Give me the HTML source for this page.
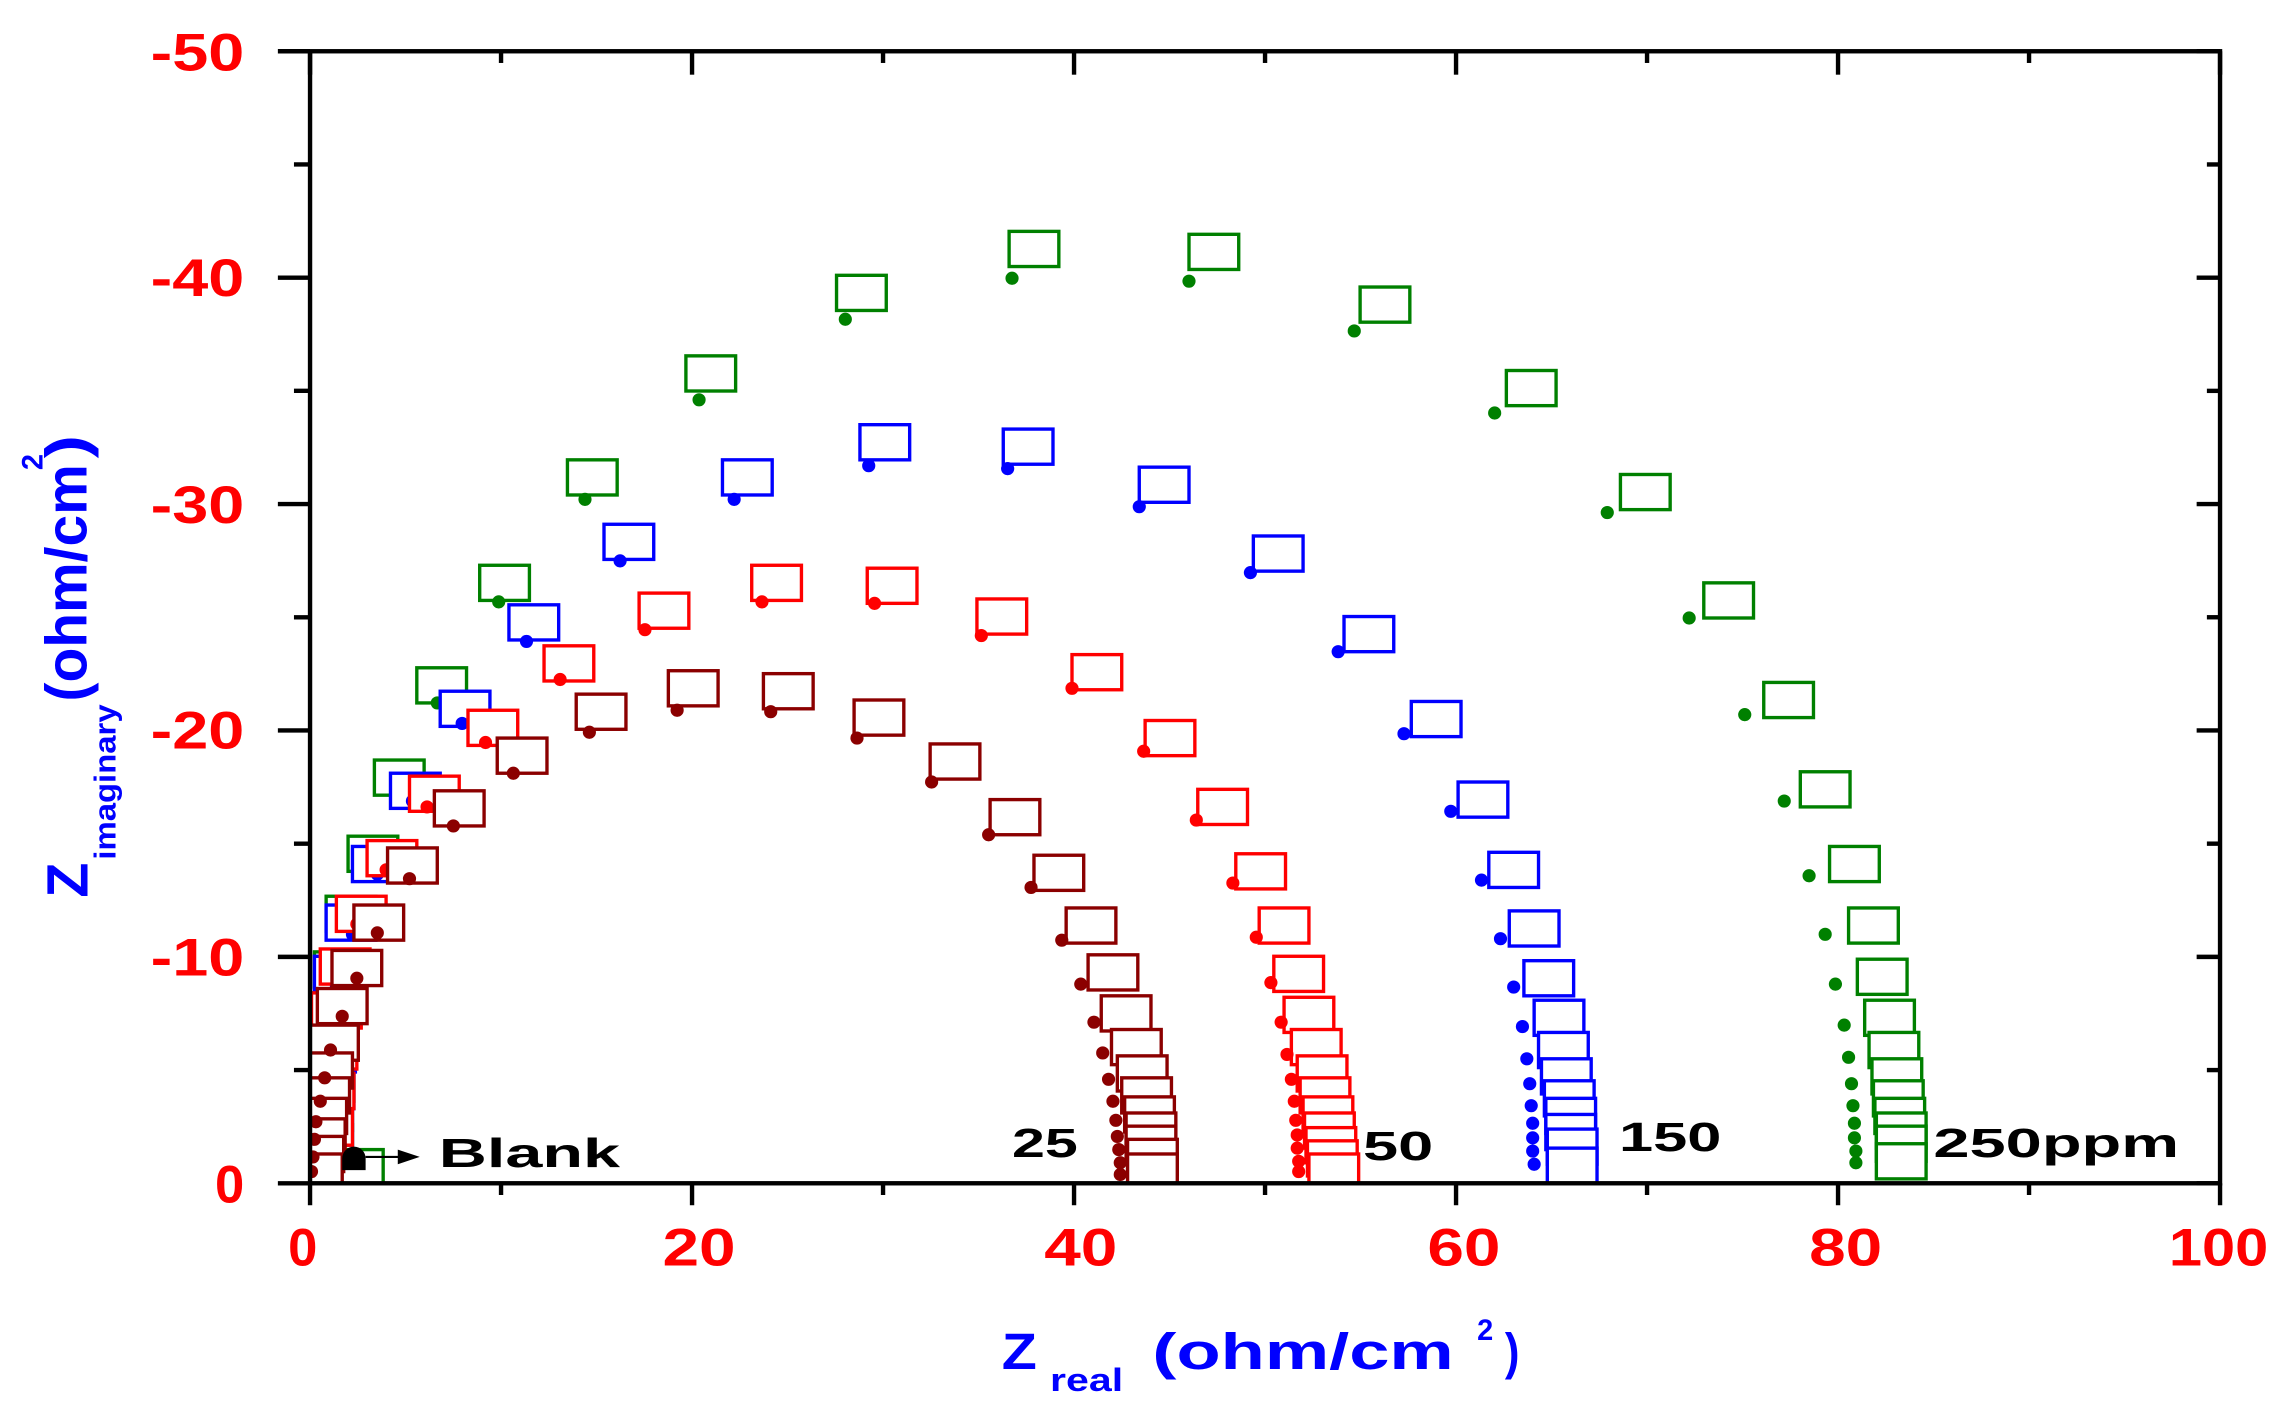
<!DOCTYPE html>
<html><head><meta charset="utf-8"><style>
html,body{margin:0;padding:0;background:#fff;}
svg{display:block;}
text{font-family:"Liberation Sans",Arial,sans-serif;font-weight:bold;}
</style></head><body>
<svg id="s" width="2292" height="1417" viewBox="0 0 1567.2 967.6" preserveAspectRatio="none" xmlns="http://www.w3.org/2000/svg">
<defs><clipPath id="cp"><rect x="212" y="35" width="1306" height="773"/></clipPath></defs>
<g id="data" clip-path="url(#cp)"></g>
<g stroke="#000" stroke-width="3" fill="none">
<rect x="212" y="35" width="1306" height="773"/>
</g>
<g id="ticks" stroke="#000" stroke-width="3"></g>
<g fill="#f00" font-size="36" text-anchor="end">
<text x="167" y="48" textLength="64" lengthAdjust="spacingAndGlyphs">-50</text>
<text x="167" y="202" textLength="64" lengthAdjust="spacingAndGlyphs">-40</text>
<text x="167" y="357" textLength="64" lengthAdjust="spacingAndGlyphs">-30</text>
<text x="167" y="511" textLength="64" lengthAdjust="spacingAndGlyphs">-20</text>
<text x="167" y="666" textLength="64" lengthAdjust="spacingAndGlyphs">-10</text>
<text x="167" y="821" textLength="20" lengthAdjust="spacingAndGlyphs">0</text>
</g>
<g fill="#f00" font-size="36">
<text x="197" y="864" textLength="20" lengthAdjust="spacingAndGlyphs">0</text>
<text x="453" y="864" textLength="50" lengthAdjust="spacingAndGlyphs">20</text>
<text x="714" y="864" textLength="50" lengthAdjust="spacingAndGlyphs">40</text>
<text x="976" y="864" textLength="50" lengthAdjust="spacingAndGlyphs">60</text>
<text x="1237" y="864" textLength="50" lengthAdjust="spacingAndGlyphs">80</text>
<text x="1483" y="864" textLength="68" lengthAdjust="spacingAndGlyphs">100</text>
</g>
<g fill="#00f">
<text x="685" y="935" font-size="35" textLength="24" lengthAdjust="spacingAndGlyphs">Z</text>
<text x="718" y="950" font-size="22" textLength="50" lengthAdjust="spacingAndGlyphs">real</text>
<text x="788" y="935" font-size="35" textLength="206" lengthAdjust="spacingAndGlyphs">(ohm/cm</text>
<text x="1010" y="915" font-size="20" textLength="11" lengthAdjust="spacingAndGlyphs">2</text>
<text x="1029" y="935" font-size="35" textLength="10" lengthAdjust="spacingAndGlyphs">)</text>
</g>
<g fill="#00f">
<text transform="translate(60,613) rotate(-90)" font-size="40" textLength="24" lengthAdjust="spacingAndGlyphs">Z</text>
<text transform="translate(79,587) rotate(-90)" font-size="21" textLength="106" lengthAdjust="spacingAndGlyphs">imaginary</text>
<text transform="translate(59,479) rotate(-90)" font-size="40" textLength="162" lengthAdjust="spacingAndGlyphs">(ohm/cm</text>
<text transform="translate(29,321) rotate(-90)" font-size="20" textLength="11" lengthAdjust="spacingAndGlyphs">2</text>
<text transform="translate(59,313) rotate(-90)" font-size="40" textLength="16" lengthAdjust="spacingAndGlyphs">)</text>
</g>
<g fill="#000" font-size="28">
<text x="300" y="797" textLength="124" lengthAdjust="spacingAndGlyphs">Blank</text>
<text x="692" y="790" textLength="45" lengthAdjust="spacingAndGlyphs">25</text>
<text x="932" y="792" textLength="48" lengthAdjust="spacingAndGlyphs">50</text>
<text x="1107" y="786" textLength="70" lengthAdjust="spacingAndGlyphs">150</text>
<text x="1322" y="790" textLength="168" lengthAdjust="spacingAndGlyphs">250ppm</text>
</g>
<path d="M242,783 a8,8 0 0 1 8,8 v8 h-16 v-8 a8,8 0 0 1 8,-8z" fill="#000"/>
<line x1="250" y1="790" x2="280" y2="790" stroke="#000" stroke-width="1.5"/>
<path d="M272,785 L287,790 L272,795z" fill="#000"/>
</svg>
<script>
var NS="http://www.w3.org/2000/svg";
function el(p,n,a){var e=document.createElementNS(NS,n);for(var k in a)e.setAttribute(k,a[k]);p.appendChild(e);return e;}
var tk=document.getElementById('ticks');
for(var i=0;i<=10;i++){var y=808-i*77.3;var maj=i%2==0;
 el(tk,'line',{x1:212-(maj?22:11),y1:y,x2:212,y2:y});
 el(tk,'line',{x1:1518,y1:y,x2:1518-(maj?16:9),y2:y});}
for(var i=0;i<=10;i++){var x=212+i*130.6;var maj=i%2==0;
 el(tk,'line',{x1:x,y1:808,x2:x,y2:808+(maj?15:8)});
 el(tk,'line',{x1:x,y1:35,x2:x,y2:35+(maj?16:8)});}
var D=document.getElementById('data');
var series=[
{c:'#008000',
 sq:[[707,170],[830,172],[947,208],[1047,265],[1125,336],[1182,410],[1223,478],[1248,539],[1268,590],[1281,632],[1287,667],[1292,695],[1295,717],[1297,735],[1298,750],[1299,762],[1300,772],[1300,781],[1300,793],
 [589,200],[486,255],[405,326],[345,398],[302,468],[273,531],[255,583],[240,624],[232,662],[228,690],[226,715],[225,740],[224,760],[224,780],[245,797]],
 d:[[692,190],[813,192],[926,226],[1022,282],[1099,350],[1155,422],[1193,488],[1220,547],[1237,598],[1248,638],[1255,672],[1261,700],[1264,722],[1266,740],[1267,755],[1268,767],[1268,777],[1269,786],[1269,794],
 [578,218],[478,273],[400,341],[341,411],[299,480],[271,540],[253,592],[240,636],[230,672],[223,700],[219,725],[216,745],[214,762],[213,775]]},
{c:'#0000ff',
 sq:[[605,302],[703,305],[796,331],[874,378],[936,433],[982,491],[1014,546],[1035,594],[1049,634],[1059,668],[1066,695],[1069,717],[1071,735],[1073,750],[1074,762],[1074,773],[1075,783],[1075,796],
 [511,326],[430,370],[365,425],[318,484],[284,540],[258,590],[240,630],[232,665],[228,695],[226,720],[225,745],[224,770]],
 d:[[594,318],[689,320],[779,346],[855,391],[915,445],[960,501],[992,554],[1013,601],[1026,641],[1035,674],[1041,701],[1044,723],[1046,740],[1047,755],[1048,767],[1048,777],[1048,786],[1049,795],
 [502,341],[424,383],[360,438],[316,494],[282,547],[258,597],[241,638],[230,673]]},
{c:'#ff0000',
 sq:[[531,398],[610,400],[685,421],[750,459],[800,504],[836,551],[862,595],[878,632],[888,665],[895,693],[900,715],[904,733],[906,748],[908,761],[909,772],[910,782],[911,791],[912,800],
 [454,417],[389,453],[337,497],[297,542],[268,586],[247,624],[236,660],[230,690],[227,718],[225,745],[224,770]],
 d:[[521,411],[598,412],[671,434],[733,470],[782,513],[818,560],[843,603],[859,640],[869,671],[876,698],[880,720],[883,737],[885,752],[886,765],[887,775],[887,784],[888,793],[888,800],
 [441,430],[383,464],[332,507],[292,551],[264,594],[244,631]]},
{c:'#8b0000',
 sq:[[474,470],[539,472],[601,490],[653,520],[694,558],[724,596],[746,632],[761,664],[770,692],[777,715],[781,733],[784,748],[786,761],[787,772],[787,781],[788,790],[788,800],
 [411,486],[357,516],[314,552],[282,591],[259,630],[244,661],[234,687],[228,712],[224,731],[222,748],[220,762],[219,776],[218,788],[217,800]],
 d:[[463,485],[527,486],[586,504],[637,534],[676,570],[705,606],[726,642],[739,672],[748,698],[754,719],[758,737],[761,752],[763,765],[764,776],[765,785],[766,794],[766,802],
 [403,500],[351,528],[310,564],[280,600],[258,637],[244,668],[234,694],[226,717],[222,736],[219,752],[216,766],[215,778],[214,790],[213,800]]}
];
series.forEach(function(s){
 s.sq.forEach(function(p){el(D,'rect',{x:p[0]-17,y:p[1]-12,width:34,height:24,fill:'#fff',stroke:s.c,'stroke-width':2.3});});
 s.d.forEach(function(p){el(D,'circle',{cx:p[0],cy:p[1],r:4.5,fill:s.c});});
});
</script>
</body></html>
